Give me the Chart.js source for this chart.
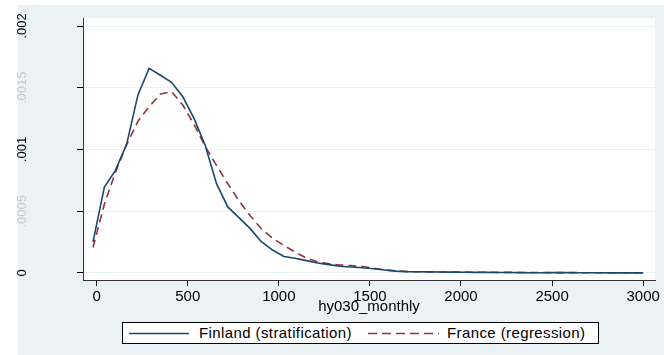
<!DOCTYPE html>
<html lang="en">
<head>
<meta charset="UTF-8">
<title>hy030_monthly density</title>
<script src="https://cdn.jsdelivr.net/npm/chart.js"></script>
<style>
  html, body { margin: 0; padding: 0; background: #fff; }
  body { width: 664px; height: 355px; position: relative; overflow: hidden; font-family: "Liberation Sans", Arial, sans-serif; }
  #chart { position: absolute; left: 0; top: 0; }
  .legend { position: absolute; left: 122px; top: 322px; width: 477px; height: 22px; box-sizing: border-box; border: 1px solid #000; background: #fff; }
  .legend svg { position: absolute; left: 0; top: 0; }
  .legend span { position: absolute; top: 0; line-height: 20px; font-size: 15px; letter-spacing: 0.4px; color: #000; white-space: nowrap; }
</style>
</head>
<body>
  <canvas id="chart" width="664" height="355"></canvas>
  <div class="legend">
    <svg width="475" height="20">
      <line x1="6" y1="10.5" x2="66" y2="10.5" stroke="#1a476f" stroke-width="1.6"/>
      <line x1="245" y1="10.5" x2="316" y2="10.5" stroke="#90353b" stroke-width="1.6" stroke-dasharray="9,5"/>
    </svg>
    <span style="left:76px">Finland (stratification)</span>
    <span style="left:324px">France (regression)</span>
  </div>

<script>
// kernel density evaluation points (hy030_monthly)
const xValues = [-20, 42, 103, 165, 227, 288, 350, 411, 473, 535,
  596, 658, 720, 781, 843, 904, 966, 1028, 1089, 1151,
  1213, 1274, 1336, 1397, 1459, 1521, 1582, 1644, 1706, 1767,
  1829, 1890, 1952, 2014, 2075, 2137, 2199, 2260, 2322, 2383,
  2445, 2507, 2568, 2630, 2692, 2753, 2815, 2876, 2938, 3000];

const finland = [0.000252, 0.000694, 0.000831, 0.001046, 0.001444, 0.001657, 0.001601, 0.001544, 0.001427, 0.00125,
  0.001032, 0.000723, 0.000535, 0.000449, 0.000359, 0.000253, 0.000186, 0.000134, 0.00012, 0.0001,
  0.000081, 0.000068, 0.000054, 0.000048, 0.000043, 0.000034, 0.000024, 0.000015, 0.000011, 0.00001,
  0.000009, 0.000008, 0.000007, 0.000006, 0.000005, 0.000005, 0.000004, 0.000004, 0.000003, 0.000002,
  0.000002, 0.000003, 0.000003, 0.000002, 0.000002, 0.000002, 0.000001, 0.000001, 0.000001, 0.000001];

const france = [0.000207, 0.000556, 0.000815, 0.00104, 0.00123, 0.001347, 0.001449, 0.001468, 0.00136, 0.001202,
  0.001024, 0.000871, 0.000723, 0.000585, 0.000464, 0.000359, 0.000281, 0.000223, 0.00017, 0.000121,
  0.000091, 0.000075, 0.000065, 0.00006, 0.000053, 0.000038, 0.000025, 0.000016, 0.000011, 0.00001,
  0.000009, 0.000008, 0.000008, 0.000007, 0.000006, 0.000006, 0.000005, 0.000005, 0.000004, 0.000004,
  0.000004, 0.000003, 0.000003, 0.000003, 0.000002, 0.000002, 0.000002, 0.000002, 0.000002, 0.000002];

const xTicks = [0, 500, 1000, 1500, 2000, 2500, 3000];
const xTickLabels = ['0', '500', '1000', '1500', '2000', '2500', '3000'];
const yTicks = [0, 0.0005, 0.001, 0.0015, 0.002];
const yTickLabels = ['0', '.0005', '.001', '.0015', '.002'];
const yFaintTicks = [0.0005, 0.0015];

const FONT = '"Liberation Sans", Arial, sans-serif';

// light blue graph region + white plot region, like the Stata s2color scheme
const backdrop = {
  id: 'backdrop',
  beforeDraw(chart) {
    const c = chart.ctx, a = chart.chartArea;
    c.save();
    c.fillStyle = '#eaf2f3';
    c.fillRect(18, 5, chart.width - 18, chart.height - 5);
    c.fillStyle = '#ffffff';
    c.fillRect(a.left, a.top, a.right - a.left, a.bottom - a.top);
    c.restore();
  }
};

new Chart(document.getElementById('chart').getContext('2d'), {
  type: 'line',
  data: {
    datasets: [
      {
        label: 'Finland (stratification)',
        data: xValues.map((x, i) => ({ x: x, y: finland[i] })),
        borderColor: '#1a476f',
        borderWidth: 1.6,
        pointRadius: 0,
        fill: false
      },
      {
        label: 'France (regression)',
        data: xValues.map((x, i) => ({ x: x, y: france[i] })),
        borderColor: '#90353b',
        borderWidth: 1.6,
        borderDash: [8, 5],
        pointRadius: 0,
        fill: false
      }
    ]
  },
  options: {
    responsive: false,
    animation: false,
    layout: { padding: { left: 0, top: 18, right: 9, bottom: 39 } },
    plugins: { legend: { display: false }, tooltip: { enabled: false } },
    scales: {
      x: {
        type: 'linear',
        min: -75,
        max: 3065,
        afterBuildTicks: s => { s.ticks = xTicks.map(v => ({ value: v })); },
        afterFit: s => { s.height = 36; s.paddingLeft = 0; s.paddingRight = 0; },
        ticks: { callback: (v, i) => xTickLabels[i], font: { size: 15, family: FONT }, color: '#000', padding: 2, maxRotation: 0, autoSkip: false },
        grid: { drawOnChartArea: false, tickLength: 6, tickColor: '#000', color: '#000' },
        border: { display: true, color: '#333', width: 1 },
        title: { display: true, text: 'hy030_monthly', font: { size: 15, family: FONT }, color: '#000', padding: 0 }
      },
      y: {
        type: 'linear',
        min: -0.0000567,
        max: 0.0020648,
        afterBuildTicks: s => { s.ticks = yTicks.map(v => ({ value: v })); },
        afterFit: s => { s.width = 83; s.paddingTop = 0; s.paddingBottom = 0; },
        ticks: {
          callback: (v, i) => yTickLabels[i],
          minRotation: 90,
          maxRotation: 90,
          crossAlign: 'center',
          padding: 38,
          font: { size: 13, family: FONT },
          color: c => (c.tick && yFaintTicks.includes(c.tick.value)) ? '#c4cbcd' : '#000'
        },
        grid: { color: '#eaf2f3', tickColor: '#000', tickLength: 6, lineWidth: 1 },
        border: { display: true, color: '#333', width: 1 }
      }
    }
  },
  plugins: [backdrop]
});
</script>
</body>
</html>
